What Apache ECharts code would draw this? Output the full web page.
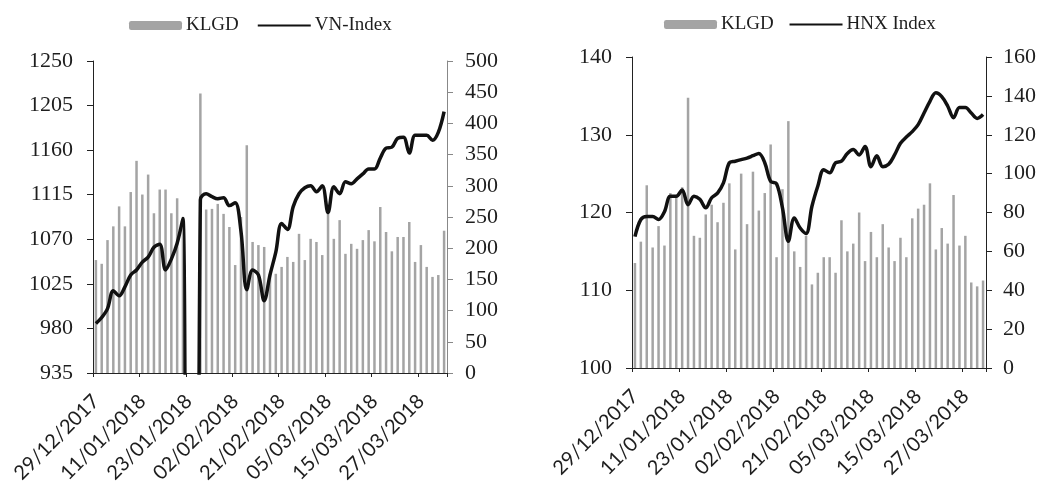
<!DOCTYPE html>
<html>
<head>
<meta charset="utf-8">
<script src="https://cdn.jsdelivr.net/npm/echarts@6/dist/echarts.min.js"></script>
<style>
html,body{margin:0;padding:0;background:#fff;}
#c{width:1048px;height:486px;}
</style>
</head>
<body>
<div id="c"></div>
<script>
// ---- data ----
const datesVN = ['29/12/2017','02/01/2018','03/01/2018','04/01/2018','05/01/2018','08/01/2018','09/01/2018','10/01/2018',
 '11/01/2018','12/01/2018','15/01/2018','16/01/2018','17/01/2018','18/01/2018','19/01/2018','22/01/2018',
 '23/01/2018','24/01/2018','25/01/2018','26/01/2018','29/01/2018','30/01/2018','31/01/2018','01/02/2018',
 '02/02/2018','05/02/2018','06/02/2018','07/02/2018','08/02/2018','09/02/2018','12/02/2018','13/02/2018',
 '21/02/2018','22/02/2018','23/02/2018','26/02/2018','27/02/2018','28/02/2018','01/03/2018','02/03/2018',
 '05/03/2018','06/03/2018','07/03/2018','08/03/2018','09/03/2018','12/03/2018','13/03/2018','14/03/2018',
 '15/03/2018','16/03/2018','19/03/2018','20/03/2018','21/03/2018','22/03/2018','23/03/2018','26/03/2018',
 '27/03/2018','28/03/2018','29/03/2018','30/03/2018','02/04/2018'];
const datesHNX = datesVN.slice(0, 60);

const vnIndex = [985,991,1000,1018,1013,1022,1034,1039,1047,1052,1062,1065,1039,1050,1066,1091,
 0,0,1110,1116,1113,1111,1112,1104,1107,1078,1019,1039,1034,1008,1034,1057,
 1086,1080,1103,1116,1122,1124,1118,1124,1097,1123,1116,1128,1126,1131,1136,1141,
 1141,1152,1162,1163,1172,1173,1157,1175,1175,1175,1170,1178,1199];
const vnKLGD = [181,175,213,235,267,235,290,340,286,318,256,294,294,256,280,250,
 0,0,448,262,263,271,255,234,173,250,365,210,205,202,159,159,
 170,186,178,223,181,215,210,189,255,215,245,191,207,199,213,229,
 211,266,226,195,218,218,242,178,205,170,154,157,228];

const hnxIndex = [116.9,119.1,119.5,119.5,119.1,120.1,122.1,122.1,122.9,121.0,122.1,121.7,120.6,121.9,122.5,123.8,
 126.4,126.6,126.8,127.0,127.3,127.6,126.4,124.0,123.7,120.6,116.3,119.3,118.0,117.3,120.8,123.4,
 125.5,125.1,126.4,126.6,127.6,128.1,127.4,128.5,125.9,127.3,125.9,126.2,127.4,128.9,129.7,130.4,
 131.3,132.8,134.3,135.4,134.9,133.7,132.2,133.5,133.5,132.8,132.1,132.6];
const hnxKLGD = [54,65,94,62,73,63,90,89,93,139,68,67,79,84,75,85,
 95,61,100,74,101,81,90,115,57,92,127,60,52,68,43,49,
 57,57,49,76,60,64,80,55,70,57,74,62,55,67,57,77,
 82,84,95,61,72,64,89,63,68,44,42,45];

// ---- styles ----
const SERIF = '"Liberation Serif", "DejaVu Serif", serif';
const SANS = 'Lato, "Open Sans", sans-serif';
const TXT = '#1e1e1e';
const BAR = '#a4a4a4';

function xAxis(gi, data){
  return {
    type:'category', gridIndex:gi, data:data, boundaryGap:true,
    axisLine:{show:true, lineStyle:{color:'#222', width:1}},
    axisTick:{show:true, interval:7, length:4, lineStyle:{color:'#222'}},
    axisLabel:{interval:7, rotate:45, fontFamily:SANS, fontSize:20, color:TXT, margin:25}
  };
}
function yAxis(gi, pos, min, max, step, lineColor, margin){
  return {
    type:'value', gridIndex:gi, position:pos, min:min, max:max, interval:step,
    splitLine:{show:false},
    axisLine:{show:true, lineStyle:{color:lineColor, width:1}},
    axisTick:{show:true, length:6, inside:false, lineStyle:{color:lineColor}},
    axisLabel:{fontFamily:SERIF, fontSize:22, color:TXT, margin:margin,
               formatter:function(v){return String(v);}}
  };
}

const chart = echarts.init(document.getElementById('c'), null, {renderer:'canvas'});
chart.setOption({
  animation:false,
  backgroundColor:'#fff',
  grid:[
    {left:93, right:601, top:61, bottom:113},
    {left:632, right:62, top:57, bottom:118}
  ],
  legend:[
    {data:['KLGD',{name:'VN-Index', itemStyle:{opacity:0}}], left:124, top:11, itemWidth:53, itemHeight:9, itemGap:18,
     textStyle:{fontFamily:SERIF, fontSize:19, color:TXT, padding:[0,0,0,-1]}},
    {data:['KLGD ',{name:'HNX Index', itemStyle:{opacity:0}}], left:659, top:10, itemWidth:53, itemHeight:9, itemGap:10,
     textStyle:{fontFamily:SERIF, fontSize:19, color:TXT, padding:[0,0,0,-1]}}
  ],
  xAxis:[ xAxis(0, datesVN), xAxis(1, datesHNX) ],
  yAxis:[
    yAxis(0,'left',935,1250,45,'#222',20),
    yAxis(0,'right',0,500,50,'#888',18),
    yAxis(1,'left',100,140,10,'#222',20),
    yAxis(1,'right',0,160,20,'#222',17)
  ],
  series:[
    {name:'KLGD', type:'bar', xAxisIndex:0, yAxisIndex:1, data:vnKLGD, barWidth:2.5,
     itemStyle:{color:BAR}, z:1},
    {name:'VN-Index', type:'line', xAxisIndex:0, yAxisIndex:0, data:vnIndex, smooth:0.35,
     symbol:'none', itemStyle:{color:'#111'}, lineStyle:{color:'#111', width:3.5}, z:3},
    {name:'KLGD ', type:'bar', xAxisIndex:1, yAxisIndex:3, data:hnxKLGD, barWidth:2.5,
     itemStyle:{color:BAR}, z:1},
    {name:'HNX Index', type:'line', xAxisIndex:1, yAxisIndex:2, data:hnxIndex, smooth:0.35,
     symbol:'none', itemStyle:{color:'#111'}, lineStyle:{color:'#111', width:3.5}, z:3}
  ]
});
</script>
</body>
</html>
